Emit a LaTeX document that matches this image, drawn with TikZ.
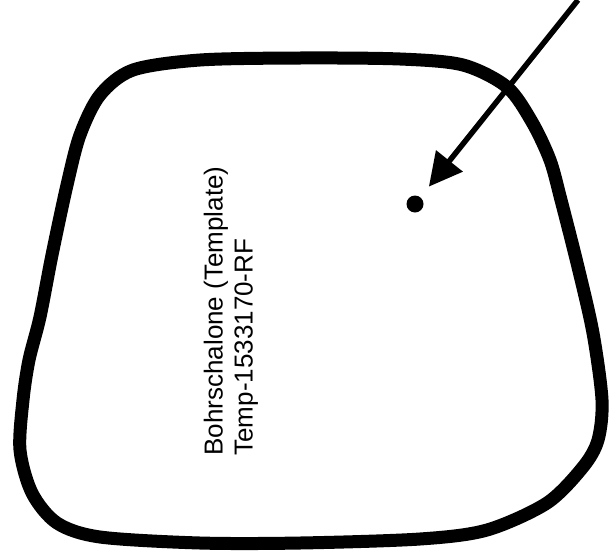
\documentclass[tikz,border=0pt]{standalone}
\usepackage{fontspec}
\setmainfont{Liberation Sans}
\usepackage{tikz}
\usetikzlibrary{arrows.meta,positioning,calc}
\tikzset{
  outline/.style={
    draw=black, line width=13pt, line join=round
  },
  holedot/.style={
    circle, fill=black, minimum size=17pt, inner sep=0pt
  },
  pointer/.style={-{Triangle[length=33pt,width=33pt]}, line width=5.5pt, black},
  labeltext/.style={
    rotate=90, align=left, inner sep=0pt,
    font=\fontsize{26}{30}\selectfont
  }
}
\begin{document}
\begin{tikzpicture}[x=1pt,y=-1pt]
  \useasboundingbox (0,0) rectangle (609,557);

  % Outline
  \draw[outline] plot[smooth cycle, tension=0.5] coordinates {
    (200,60) (300,58) (400,59) (463,65) (507,87) (532,122) (550,160)
    (561,200) (578,267) (593,333) (602,400) (598,440) (583,467)
    (547,503) (487,530) (420,539) (300,543) (200,543) (100,537)
    (57,523) (32,493) (20,450) (23,400) (29,360) (40,317) (52,255)
    (67,185) (80,135) (100,95) (133,70)};

  \node[holedot] (dot) at (415,204) {};
  \coordinate (tail) at (578,0);

  \node[labeltext] (lbl) at (231,311)
    {Bohrschalone (Template)\\Temp-1533170-RF};

  % Arrow
  \draw[pointer, shorten >=13.5pt] (tail) -- (dot);
\end{tikzpicture}
\end{document}
